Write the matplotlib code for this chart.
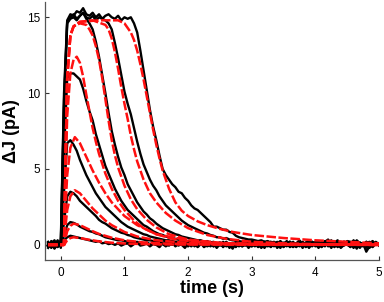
import numpy as np
import matplotlib
matplotlib.use("Agg")
import matplotlib.pyplot as plt

plt.rcParams['font.family'] = ['Liberation Sans', 'DejaVu Sans']

# ---- data ----
t_data = np.round(np.linspace(-0.2, 5.0, 105), 3)  # sampling times (s)

data_1 = [0.1,-0.2,0.2,-0.1,0.2, 0.3,0.5,0.6,0.55,0.5,
          0.45,0.4,0.35,0.3,0.25,0.2,0.25,0.1,0.15,0.05,
          0.1,0.0,0.1,-0.05,0.05,0.1,-0.1,0.05,0.15,-0.05,
          0.0,0.1,-0.1,0.05,0.0,-0.15,0.1,0.0,-0.05,0.15,
          -0.1,0.05,0.0,-0.2,0.1,-0.05,0.1,-0.15,0.05,0.2,
          -0.1,0.0,0.1,-0.2,0.05,0.15,-0.1,0.0,-0.25,0.1,
          0.05,-0.1,0.2,-0.05,0.0,0.1,-0.15,0.05,0.2,-0.1,
          0.0,0.15,-0.2,0.05,0.1,-0.1,0.2,0.0,-0.15,0.1,
          0.05,-0.1,0.2,-0.05,0.1,0.0,0.15,-0.1,0.25,0.05,
          -0.15,0.1,0.2,-0.05,0.1,-0.1,0.15,0.0,-0.2,0.1,
          -0.45,-0.1,0.1,0.0,0.05]
data_2 = [-0.1,0.2,-0.2,0.1,0.0, 0.6,1.3,1.5,1.45,1.35,
          1.2,1.1,1.0,0.9,0.85,0.75,0.7,0.6,0.5,0.45,
          0.4,0.35,0.3,0.3,0.25,0.2,0.2,0.15,0.2,0.1,
          0.1,0.15,0.05,0.1,0.0,0.1,0.05,-0.1,0.1,0.0,
          0.15,-0.05,0.1,0.0,-0.1,0.2,-0.1,0.05,0.1,-0.15,
          0.0,0.2,-0.1,0.1,-0.05,0.0,0.15,-0.2,0.1,0.05,
          -0.1,0.1,0.0,0.25,-0.1,0.05,0.0,-0.15,0.1,0.2,
          -0.05,0.1,0.0,-0.2,0.15,0.05,-0.1,0.2,-0.05,0.0,
          0.1,-0.15,0.05,0.2,-0.1,0.15,0.0,-0.05,0.1,-0.2,
          0.15,0.0,-0.1,0.2,0.05,-0.15,0.1,0.25,-0.05,0.0,
          0.1,-0.2,0.05,0.15,0.0]
data_3 = [0.2,-0.1,0.0,0.3,-0.2, 1.5,3.2,3.5,3.4,3.2,
          2.9,2.7,2.5,2.3,2.1,1.9,1.65,1.5,1.4,1.25,
          1.1,1.0,0.9,0.8,0.75,0.65,0.6,0.5,0.45,0.4,
          0.35,0.3,0.3,0.25,0.2,0.2,0.15,0.2,0.1,0.15,
          0.05,0.1,0.0,0.1,0.05,-0.1,0.15,0.0,0.1,-0.05,
          0.2,-0.1,0.05,0.0,0.15,-0.15,0.1,0.05,-0.1,0.2,
          0.0,-0.05,0.1,-0.2,0.05,0.15,0.0,-0.1,0.2,0.05,
          -0.15,0.1,0.0,0.2,-0.1,0.05,0.15,-0.05,0.0,0.1,
          -0.2,0.15,0.05,-0.1,0.2,0.0,-0.15,0.1,0.05,0.25,
          -0.05,0.1,-0.2,0.0,0.15,0.05,-0.1,0.2,0.0,-0.1,
          0.15,0.0,-0.1,0.1,0.05]
data_4 = [-0.2,0.1,0.3,-0.1,0.1, 3.5,6.7,6.9,6.6,6.2,
          5.6,5.1,4.6,4.2,3.8,3.4,3.1,2.8,2.5,2.3,
          2.1,1.9,1.7,1.5,1.35,1.2,1.1,1.0,0.9,0.8,
          0.7,0.65,0.55,0.5,0.45,0.4,0.35,0.3,0.3,0.25,
          0.2,0.2,0.15,0.1,0.15,0.05,0.1,0.0,0.1,-0.05,
          0.1,0.05,-0.1,0.1,0.0,0.2,-0.05,0.1,-0.15,0.05,
          0.15,-0.1,0.0,0.1,0.25,-0.05,0.1,-0.2,0.05,0.0,
          0.1,-0.1,0.2,0.0,-0.05,0.15,-0.15,0.1,0.05,-0.1,
          0.2,0.0,-0.1,0.15,0.05,-0.2,0.1,0.0,0.2,-0.05,
          0.1,-0.15,0.05,0.2,0.0,-0.1,0.1,-0.25,0.15,0.05,
          -0.1,0.1,0.0,0.2,-0.05]
data_5 = [0.0,-0.15,0.1,0.2,-0.1, 6.0,11.0,11.3,11.3,11.1,
          10.9,10.3,9.5,8.8,8.2,7.3,6.6,5.9,5.2,4.7,
          4.2,3.7,3.3,2.9,2.6,2.3,2.1,1.9,1.7,1.5,
          1.3,1.2,1.05,0.9,0.8,0.7,0.65,0.55,0.5,0.45,
          0.4,0.35,0.3,0.25,0.25,0.2,0.15,0.2,0.1,0.15,
          0.05,0.1,0.05,0.0,0.1,-0.1,0.15,0.0,0.05,-0.15,
          0.1,0.2,-0.05,0.05,-0.1,0.15,0.0,0.1,-0.2,0.05,
          0.2,-0.05,0.0,0.1,-0.15,0.05,0.2,0.0,-0.1,0.15,
          0.0,0.1,-0.2,0.05,0.15,-0.05,0.1,0.2,-0.1,0.0,
          0.05,0.25,-0.1,0.0,0.1,0.15,-0.2,0.05,0.1,-0.05,
          0.2,0.0,-0.15,0.1,0.0]
data_A = [0.15,0.0,-0.2,0.2,0.0, 9.0,14.6,14.9,15.0,14.8,
          15.1,15.3,14.9,14.6,14.2,13.4,12.4,11.2,10.0,8.7,
          7.5,6.6,5.8,5.1,4.6,4.0,3.6,3.2,2.8,2.5,
          2.2,2.0,1.75,1.6,1.4,1.25,1.1,1.0,0.9,0.8,
          0.7,0.65,0.55,0.5,0.45,0.4,0.35,0.3,0.3,0.2,
          0.25,0.15,0.2,0.1,0.15,0.05,0.2,0.0,0.1,0.15,
          -0.05,0.1,0.2,0.0,0.1,-0.1,0.15,0.05,0.0,0.2,
          -0.1,0.05,0.15,-0.05,0.1,0.2,0.0,-0.15,0.1,0.05,
          0.15,-0.05,0.0,0.2,0.1,-0.1,0.05,0.25,0.0,-0.1,
          0.2,0.05,-0.15,0.1,0.0,0.15,0.25,-0.05,0.1,0.0,
          -0.2,0.1,0.15,0.0,0.1]
data_B = [-0.1,0.25,0.05,-0.15,0.1, 9.5,14.7,15.0,15.2,14.9,
          15.1,15.3,15.0,14.9,15.1,14.8,15.0,14.9,14.8,14.6,
          14.2,13.3,12.3,11.2,10.1,9.3,8.6,7.7,6.8,6.0,
          5.3,4.8,4.3,3.9,3.6,3.2,2.9,2.6,2.4,2.2,
          2.0,1.8,1.6,1.45,1.3,1.2,1.1,1.0,0.9,0.8,
          0.75,0.65,0.6,0.5,0.5,0.4,0.45,0.35,0.3,0.3,
          0.25,0.2,0.2,0.15,0.1,0.2,0.05,0.15,0.0,0.1,
          0.2,-0.05,0.1,0.15,0.0,0.25,-0.1,0.1,0.05,0.2,
          -0.05,0.1,0.3,0.0,0.15,-0.1,0.2,0.05,0.1,0.3,
          0.0,0.15,-0.1,0.2,0.1,0.0,0.3,0.05,0.15,-0.05,
          0.1,0.2,0.0,0.15,0.1]
data_C = [0.0,0.1,-0.25,0.05,0.3, 10.0,14.8,15.2,15.1,15.4,
          15.3,15.6,15.2,15.1,15.3,15.0,15.2,14.9,15.1,15.2,
          15.0,14.9,15.1,14.8,15.0,14.9,15.0,14.6,14.0,12.8,
          11.5,10.2,8.9,7.8,6.9,5.9,5.0,4.6,4.3,4.0,
          3.8,3.5,3.4,3.1,2.9,2.6,2.4,2.3,2.1,1.9,
          1.7,1.5,1.2,1.2,1.1,1.0,1.0,0.85,0.8,0.6,
          0.5,0.45,0.4,0.35,0.35,0.3,0.25,0.3,0.2,0.25,
          0.15,0.2,0.1,0.25,0.05,0.15,0.2,0.0,0.1,0.3,
          0.05,0.15,0.2,-0.05,0.1,0.25,0.0,0.2,0.35,0.05,
          0.15,0.3,0.0,0.1,0.25,0.2,0.05,0.3,0.1,0.0,
          0.2,0.1,0.25,0.0,0.1]

# model fits (red dashed)
t_m1 = [-0.2,0.05,0.1,0.15,0.2,0.3,0.4,0.5,0.6,0.8,1.0,1.3,1.6,2.0,3.0,5.0]
y_m1 = [0,0,0.3,0.45,0.5,0.45,0.37,0.3,0.23,0.14,0.09,0.05,0.03,0.02,0.01,0]
y_m2 = [0,0,0.9,1.25,1.4,1.3,1.1,0.9,0.72,0.47,0.3,0.16,0.09,0.05,0.02,0]
t_m3 = [-0.2,0.05,0.08,0.1,0.15,0.22,0.3,0.4,0.5,0.6,0.7,0.8,1.0,1.2,1.5,2.0,2.5,3.0,5.0]
y_m3 = [0,0,1.5,2.3,3.2,3.6,3.4,2.9,2.4,2.0,1.6,1.3,0.85,0.55,0.3,0.12,0.05,0.03,0]
y_m4 = [0,0,3,4.6,6.4,7.1,6.7,5.8,4.9,4.1,3.4,2.8,1.9,1.3,0.7,0.3,0.12,0.06,0]
t_m5 = [-0.2,0.05,0.08,0.1,0.15,0.2,0.25,0.3,0.35,0.4,0.45,0.5,0.55,0.6,0.7,0.8,0.9,1.0,1.15,1.3,1.5,1.75,2.0,2.5,3.0,4.0,5.0]
y_m5 = [0,0,5.5,8.5,11.3,12.2,12.4,12.0,11.1,9.9,8.8,7.7,6.8,6.0,4.7,3.7,2.9,2.3,1.6,1.1,0.7,0.4,0.25,0.1,0.05,0.02,0]
t_mA = [-0.2,0.05,0.08,0.1,0.15,0.2,0.3,0.4,0.45,0.5,0.55,0.6,0.65,0.7,0.75,0.8,0.85,0.9,1.0,1.1,1.2,1.35,1.5,1.7,2.0,2.5,3.0,4.0,5.0]
y_mA = [0,0,7,11,13.8,14.4,14.6,14.5,14.2,13.8,13.1,12.2,11.0,9.6,8.2,6.9,5.9,5.1,3.9,3.0,2.35,1.65,1.15,0.7,0.35,0.13,0.06,0.02,0]
t_mB = [-0.2,0.05,0.08,0.1,0.15,0.2,0.3,0.5,0.7,0.75,0.8,0.85,0.9,0.95,1.0,1.05,1.1,1.15,1.2,1.3,1.4,1.5,1.65,1.8,2.0,2.3,2.6,3.0,3.5,4.0,5.0]
y_mB = [0,0,7,11,13.8,14.4,14.7,14.8,14.5,14.2,13.6,12.7,11.6,10.4,9.3,8.3,7.2,6.3,5.5,4.3,3.4,2.8,2.1,1.6,1.1,0.65,0.4,0.2,0.1,0.05,0.01]
t_mC = [-0.2,0.05,0.08,0.1,0.15,0.2,0.3,0.6,0.9,1.0,1.1,1.15,1.2,1.25,1.3,1.35,1.4,1.45,1.5,1.55,1.6,1.7,1.8,1.9,2.0,2.15,2.3,2.5,2.7,3.0,3.5,4.0,4.5,5.0]
y_mC = [0,0,7,11,13.8,14.4,14.7,14.8,14.8,14.6,14.0,13.5,12.8,11.9,10.9,9.8,8.7,7.6,6.6,5.7,4.9,3.7,2.8,2.25,1.9,1.55,1.3,1.05,0.85,0.65,0.45,0.3,0.2,0.1]

x_ticks = [0, 1, 2, 3, 4, 5]
y_ticks = [0, 5, 10, 15]

data_traces = [data_1, data_2, data_3, data_4, data_5, data_A, data_B, data_C]
model_traces = [(t_m1, y_m1), (t_m1, y_m2), (t_m3, y_m3), (t_m3, y_m4),
                (t_m5, y_m5), (t_mA, y_mA), (t_mB, y_mB), (t_mC, y_mC)]

# ---- figure ----
fig = plt.figure(figsize=(3.84, 3.02), dpi=100)
ax = fig.add_axes([0.117, 0.139, 0.870, 0.854])

for d in data_traces:
    ax.plot(t_data, d, color='black', lw=1.7, zorder=2, solid_joinstyle='round')
for tm, ym in model_traces:
    ax.plot(tm, ym, color='#ff1010', lw=1.8, ls=(0, (3.8, 1.0)), zorder=3)

ax.set_xlim(-0.25, 5.0)
ax.set_ylim(-1, 16)
ax.set_xticks(x_ticks)
ax.set_yticks(y_ticks)
ax.tick_params(direction='in', length=3, width=0.8, labelsize=8.5, colors='#333333',
               labelcolor='black')
ax.tick_params(axis='x', pad=5)
for s in ['top', 'right']:
    ax.spines[s].set_visible(False)
for s in ['left', 'bottom']:
    ax.spines[s].set_color('#555555')
    ax.spines[s].set_linewidth(0.9)

ax.set_xlabel('time (s)', fontsize=13, fontweight='bold', labelpad=1)
ax.set_ylabel('ΔJ (pA)', fontsize=13, fontweight='bold', labelpad=5)

fig.savefig('out.png', dpi=100)
